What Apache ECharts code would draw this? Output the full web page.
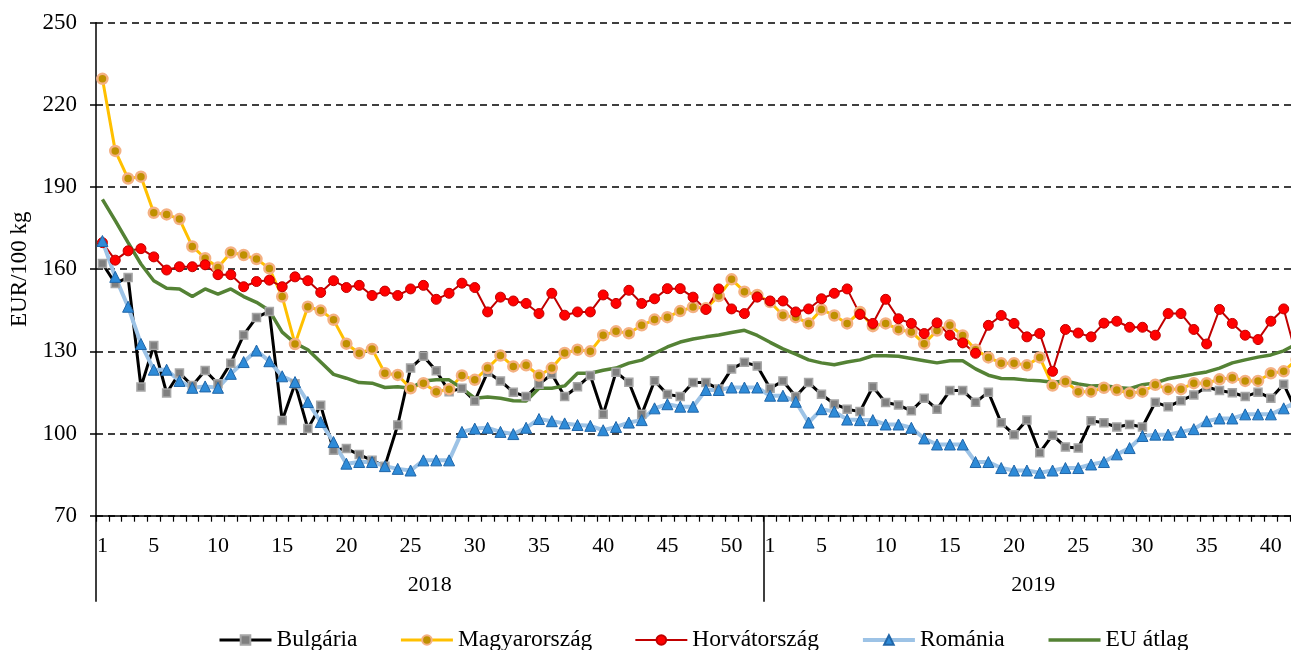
<!DOCTYPE html>
<html>
<head>
<meta charset="utf-8">
<script src="https://cdn.jsdelivr.net/npm/echarts@6/dist/echarts.min.js"></script>
<style>
html,body{margin:0;padding:0;background:#fff;overflow:hidden;width:1291px;height:650px;}
#chart{width:1304px;height:650px;}
</style>
</head>
<body>
<div id="chart"></div>
<script>
// Week labels (2018: weeks 1-52, 2019: weeks 1-42; week 42 of 2019 is cut off at the right edge)
var weeks2018 = [1,2,3,4,5,6,7,8,9,10,11,12,13,14,15,16,17,18,19,20,21,22,23,24,25,26,27,28,29,30,31,32,33,34,35,36,37,38,39,40,41,42,43,44,45,46,47,48,49,50,51,52];
var weeks2019 = [1,2,3,4,5,6,7,8,9,10,11,12,13,14,15,16,17,18,19,20,21,22,23,24,25,26,27,28,29,30,31,32,33,34,35,36,37,38,39,40,41,42];
var years = ['2018', '2019'];
var yAxisTitle = 'EUR/100 kg';

var bulgaria = [162.1,154.8,157.0,117.0,132.1,114.8,122.1,117.5,123.0,118.2,125.7,136.0,142.4,144.6,104.8,118.2,101.8,110.3,93.9,94.5,92.3,90.2,88.1,103.1,123.9,128.2,122.9,115.3,116.5,111.9,122.4,119.2,115.1,113.5,118.0,121.7,113.5,117.1,121.2,107.0,122.4,118.7,107.0,119.3,114.3,113.5,118.6,118.6,116.3,123.6,126.0,124.7,
  116.5,119.2,113.5,118.6,114.3,110.8,108.9,108.0,117.1,111.3,110.4,108.3,112.9,108.9,115.7,115.7,111.4,115.1,103.9,99.6,104.9,93.0,99.4,95.1,94.7,104.7,103.9,102.4,103.3,102.4,111.4,109.8,112.0,114.1,117.0,115.7,114.9,113.5,115.1,112.9,118.0,108.0];
var magyarorszag = [229.5,203.2,193.1,193.8,180.6,180.0,178.3,168.3,164.0,160.6,166.1,165.2,163.7,160.3,150.0,132.7,146.3,144.9,141.5,132.8,129.3,130.9,122.0,121.4,116.5,118.4,115.3,116.2,121.2,119.6,123.9,128.5,124.5,124.9,121.2,123.9,129.4,130.6,130.0,135.9,137.3,136.6,139.5,141.6,142.5,144.7,146.2,145.7,150.2,156.3,151.8,150.6,
  148.0,143.2,142.5,140.2,145.3,143.1,140.2,144.4,139.2,140.2,138.0,137.1,132.8,137.6,139.5,135.8,130.6,127.8,125.7,125.7,124.9,127.8,117.5,119.0,115.3,115.3,116.7,115.9,114.7,115.3,117.8,116.2,116.2,118.4,118.4,119.8,120.4,119.2,119.2,122.0,122.7,127.0];
var horvatorszag = [169.7,163.3,166.7,167.5,164.5,159.7,160.9,160.9,161.6,158.0,158.0,153.6,155.5,156.0,153.6,157.2,155.8,151.5,155.8,153.3,154.1,150.4,152.0,150.4,152.8,154.1,149.0,151.2,154.9,153.3,144.4,149.8,148.4,147.5,143.8,151.2,143.2,144.4,144.4,150.6,147.5,152.3,147.5,149.2,152.9,152.9,149.8,145.3,152.8,145.5,143.8,149.8,
  148.4,148.4,144.4,145.5,149.2,151.2,152.8,143.5,140.2,149.0,141.9,140.2,136.5,140.4,135.9,133.1,129.3,139.5,143.1,140.2,135.3,136.5,122.7,138.0,136.7,135.3,140.3,141.0,138.8,138.8,135.9,143.8,143.8,138.0,132.7,145.3,140.2,135.9,134.3,141.0,145.5,128.0];
var romania = [170.3,157.2,146.3,132.7,123.3,123.3,119.2,116.7,117.2,116.7,121.8,126.1,130.3,126.4,120.9,118.8,111.5,104.2,96.9,89.0,89.6,89.6,88.1,87.1,86.5,90.2,90.2,90.2,100.6,101.8,102.1,100.6,99.8,102.1,105.3,104.5,103.7,103.1,102.8,101.2,102.4,104.0,104.9,109.2,110.7,109.8,109.8,115.9,115.9,116.8,116.8,116.8,
  113.8,113.8,111.6,104.0,108.9,108.0,105.1,104.9,104.9,103.3,103.3,102.1,98.2,96.0,96.0,96.0,89.6,89.6,87.4,86.5,86.5,85.7,86.5,87.4,87.4,88.7,89.6,92.4,94.7,99.1,99.6,99.6,100.6,101.6,104.5,105.5,105.5,107.0,107.0,107.0,109.2,111.5];
var euAtlag = [185.5,177.7,169.7,161.9,155.8,153.0,152.8,150.0,152.8,150.9,152.8,150.0,147.9,144.9,137.0,133.0,130.6,126.1,121.6,120.2,118.6,118.4,116.8,117.1,116.5,119.2,119.6,119.6,116.5,112.9,113.3,112.9,112.0,111.9,116.5,116.5,117.4,122.0,122.0,123.1,123.9,125.7,126.8,129.3,131.6,133.4,134.5,135.3,136.0,136.9,137.7,135.8,
  133.3,130.9,129.0,126.9,125.8,125.1,126.1,126.9,128.4,128.4,128.2,127.4,126.6,125.8,126.6,126.6,123.6,121.3,120.1,120.0,119.5,119.3,118.7,119.2,118.1,117.4,117.5,116.8,116.4,117.8,118.5,120.0,120.8,121.7,122.5,123.9,125.8,126.9,127.9,128.7,130.2,132.7];

var categories = weeks2018.concat(weeks2019).map(String);
var nCat = categories.length;
var catWidth = 12.84;

var serif = '"Liberation Serif","Times New Roman",serif';
var chart = echarts.init(document.getElementById('chart'), null, {renderer: 'canvas'});

var option = {
  animation: false,
  backgroundColor: '#ffffff',
  grid: {left: 96, top: 22.7, width: nCat * catWidth, height: 493, containLabel: false},
  legend: {
    left: 213, top: 623,
    itemWidth: 52, itemHeight: 12, itemGap: 42,
    textStyle: {fontFamily: serif, fontSize: 23.5, color: '#000'},
    lineStyle: {width: 'inherit'},
    data: ['Bulgária', 'Magyarország', 'Horvátország', 'Románia', {name: 'EU átlag', itemStyle: {opacity: 0}}]
  },
  xAxis: [{
    type: 'category',
    data: categories,
    boundaryGap: true,
    axisLine: {lineStyle: {color: '#000', width: 1.5}},
    axisTick: {show: true, interval: 0, length: 6, lineStyle: {color: '#000', width: 1.2}},
    axisLabel: {
      interval: function (idx, val) { var n = Number(val); return n === 1 || n % 5 === 0; },
      fontFamily: serif, fontSize: 22, color: '#000', margin: 20
    },
    splitLine: {show: false}
  }, {
    type: 'value',
    min: 0, max: nCat,
    position: 'bottom',
    axisLine: {show: false},
    axisTick: {show: true, customValues: [0, weeks2018.length], length: 86, inside: false, lineStyle: {color: '#000', width: 1.5}},
    axisLabel: {
      customValues: [weeks2018.length / 2, weeks2018.length + weeks2019.length / 2],
      formatter: function (v) { return v < weeks2018.length ? years[0] : years[1]; },
      fontFamily: serif, fontSize: 22, color: '#000', margin: 59
    },
    splitLine: {show: false}
  }],
  yAxis: {
    type: 'value',
    min: 70, max: 250, interval: 30,
    name: yAxisTitle,
    nameLocation: 'middle',
    nameRotate: 90,
    nameGap: 63,
    nameTextStyle: {fontFamily: serif, fontSize: 23, color: '#000'},
    axisLine: {show: true, lineStyle: {color: '#000', width: 1.5}},
    axisTick: {show: true, length: 6, lineStyle: {color: '#000', width: 1.5}},
    axisLabel: {fontFamily: serif, fontSize: 23, color: '#000', margin: 19},
    splitLine: {show: true, lineStyle: {color: '#000', width: 1.5, type: [7, 5]}}
  },
  series: [{
    name: 'Bulgária', type: 'line', data: bulgaria, xAxisIndex: 0,
    showAllSymbol: true, symbol: 'rect', symbolSize: 8,
    lineStyle: {color: '#000000', width: 3},
    itemStyle: {color: '#7f7f7f', borderColor: '#a6a6a6', borderWidth: 1.5}
  }, {
    name: 'Magyarország', type: 'line', data: magyarorszag, xAxisIndex: 0,
    showAllSymbol: true, symbol: 'circle', symbolSize: 10,
    lineStyle: {color: '#FFC000', width: 3},
    itemStyle: {color: '#BF9000', borderColor: '#F4B183', borderWidth: 2.5}
  }, {
    name: 'Horvátország', type: 'line', data: horvatorszag, xAxisIndex: 0,
    showAllSymbol: true, symbol: 'circle', symbolSize: 10,
    lineStyle: {color: '#C00000', width: 2},
    itemStyle: {color: '#FF0000', borderColor: '#C00000', borderWidth: 1}
  }, {
    name: 'Románia', type: 'line', data: romania, xAxisIndex: 0,
    showAllSymbol: true, symbol: 'triangle', symbolSize: 11,
    lineStyle: {color: '#9DC3E6', width: 4},
    itemStyle: {color: '#2E8BD8', borderColor: '#2166A8', borderWidth: 1}
  }, {
    name: 'EU átlag', type: 'line', data: euAtlag, xAxisIndex: 0,
    showSymbol: false, symbol: 'none',
    lineStyle: {color: '#548235', width: 3.5},
    itemStyle: {color: '#548235'}
  }]
};
chart.setOption(option);
</script>
</body>
</html>
